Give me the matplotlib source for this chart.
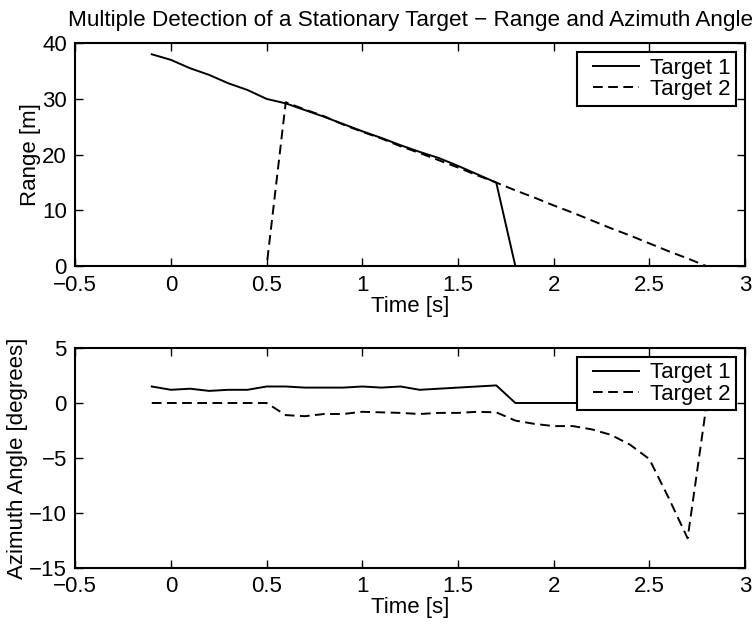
import numpy as np
import matplotlib
matplotlib.use('Agg')
import matplotlib.pyplot as plt
from matplotlib.legend_handler import HandlerLine2D

plt.rcParams['font.family'] = ['Liberation Sans', 'DejaVu Sans']
plt.rcParams['axes.unicode_minus'] = True

# time samples [s]
time = [-0.1, 0.0, 0.1, 0.2, 0.3, 0.4, 0.5, 0.6, 0.7, 0.8, 0.9, 1.0, 1.1, 1.2, 1.3,
        1.4, 1.5, 1.6, 1.7, 1.8, 1.9, 2.0, 2.1, 2.2, 2.3, 2.4, 2.5, 2.6, 2.7, 2.8]

# range [m]
range_t1 = [38.0, 37.0, 35.5, 34.3, 32.8, 31.6, 30.0, 29.2, 28.0, 26.8, 25.5, 24.2, 23.0, 21.7, 20.5,
            19.4, 18.0, 16.5, 15.0, 0.0, 0.0, 0.0, 0.0, 0.0, 0.0, 0.0, 0.0, 0.0, 0.0, 0.0]
range_t2 = [0.0, 0.0, 0.0, 0.0, 0.0, 0.0, 0.0, 29.4, 28.1, 26.9, 25.4, 24.1, 22.9, 21.5, 20.3,
            19.0, 17.7, 16.3, 15.0, 13.6, 12.3, 10.9, 9.6, 8.2, 6.8, 5.5, 4.1, 2.7, 1.4, 0.0]

# azimuth angle [degrees]
az_t1 = [1.5, 1.2, 1.3, 1.1, 1.2, 1.2, 1.5, 1.5, 1.4, 1.4, 1.4, 1.5, 1.4, 1.5, 1.2,
         1.3, 1.4, 1.5, 1.6, 0.0, 0.0, 0.0, 0.0, 0.0, 0.0, 0.0, 0.0, 0.0, 0.0, 0.0]
az_t2 = [0.0, 0.0, 0.0, 0.0, 0.0, 0.0, 0.0, -1.1, -1.2, -1.0, -1.0, -0.8, -0.85, -0.9, -1.0,
         -0.9, -0.9, -0.8, -0.85, -1.6, -1.9, -2.1, -2.1, -2.4, -2.9, -3.8, -5.1, -8.6, -12.3, 0.0]

xticks = [-0.5, 0, 0.5, 1, 1.5, 2, 2.5, 3]
xticklabels = ['\u22120.5', '0', '0.5', '1', '1.5', '2', '2.5', '3']
fs = 16
lw = 1.4
dash = (0, (5, 2.8))


# legend line drawn with a left margin, like the MATLAB legend
class IndentLine(HandlerLine2D):
    def get_xdata(self, legend, xdescent, ydescent, width, height, fontsize):
        xd, xm = super().get_xdata(legend, xdescent, ydescent, width, height, fontsize)
        xd = np.asarray(xd, dtype=float)
        xd[0] = xd[0] + 8
        return xd, xm


fig = plt.figure(figsize=(7.56, 6.25), dpi=100)
ax1 = fig.add_axes([0.0995, 0.574, 0.886, 0.357])
ax2 = fig.add_axes([0.0995, 0.0912, 0.886, 0.352])


def style(ax):
    ax.set_xlim(-0.5, 3)
    ax.set_xticks(xticks)
    ax.set_xticklabels(xticklabels)
    ax.tick_params(direction='in', top=True, right=True, labelsize=fs, length=6,
                   width=1.0, pad=6)
    for s in ax.spines.values():
        s.set_linewidth(1.5)
    ax.set_xlabel('Time [s]', fontsize=fs, labelpad=0)


ax1.plot(time, range_t1, color='k', lw=lw, label='Target 1')
ax1.plot(time, range_t2, color='k', lw=lw, linestyle=dash, label='Target 2')
ax1.set_ylim(0, 40)
ax1.set_yticks([0, 10, 20, 30, 40])
style(ax1)
ax1.set_ylabel('Range [m]', fontsize=fs, labelpad=1)
ax1.set_title('Multiple Detection of a Stationary Target \u2212 Range and Azimuth Angle',
              fontsize=16.2, pad=12)

ax2.plot(time, az_t1, color='k', lw=lw, label='Target 1')
ax2.plot(time, az_t2, color='k', lw=lw, linestyle=dash, label='Target 2')
ax2.set_ylim(-15, 5)
ax2.set_yticks([-15, -10, -5, 0, 5])
ax2.set_yticklabels(['\u221215', '\u221210', '\u22125', '0', '5'])
style(ax2)
ax2.set_ylabel('Azimuth Angle [degrees]', fontsize=fs, labelpad=1)

for ax in (ax1, ax2):
    leg = ax.legend(loc='upper right', fontsize=fs, fancybox=False, framealpha=1,
                    edgecolor='k', handlelength=2.55, borderpad=0.25, labelspacing=0.02,
                    handletextpad=0.5, borderaxespad=0.4,
                    handler_map={plt.Line2D: IndentLine()})
    leg.get_frame().set_linewidth(1.5)

fig.savefig('out.png', dpi=100)
